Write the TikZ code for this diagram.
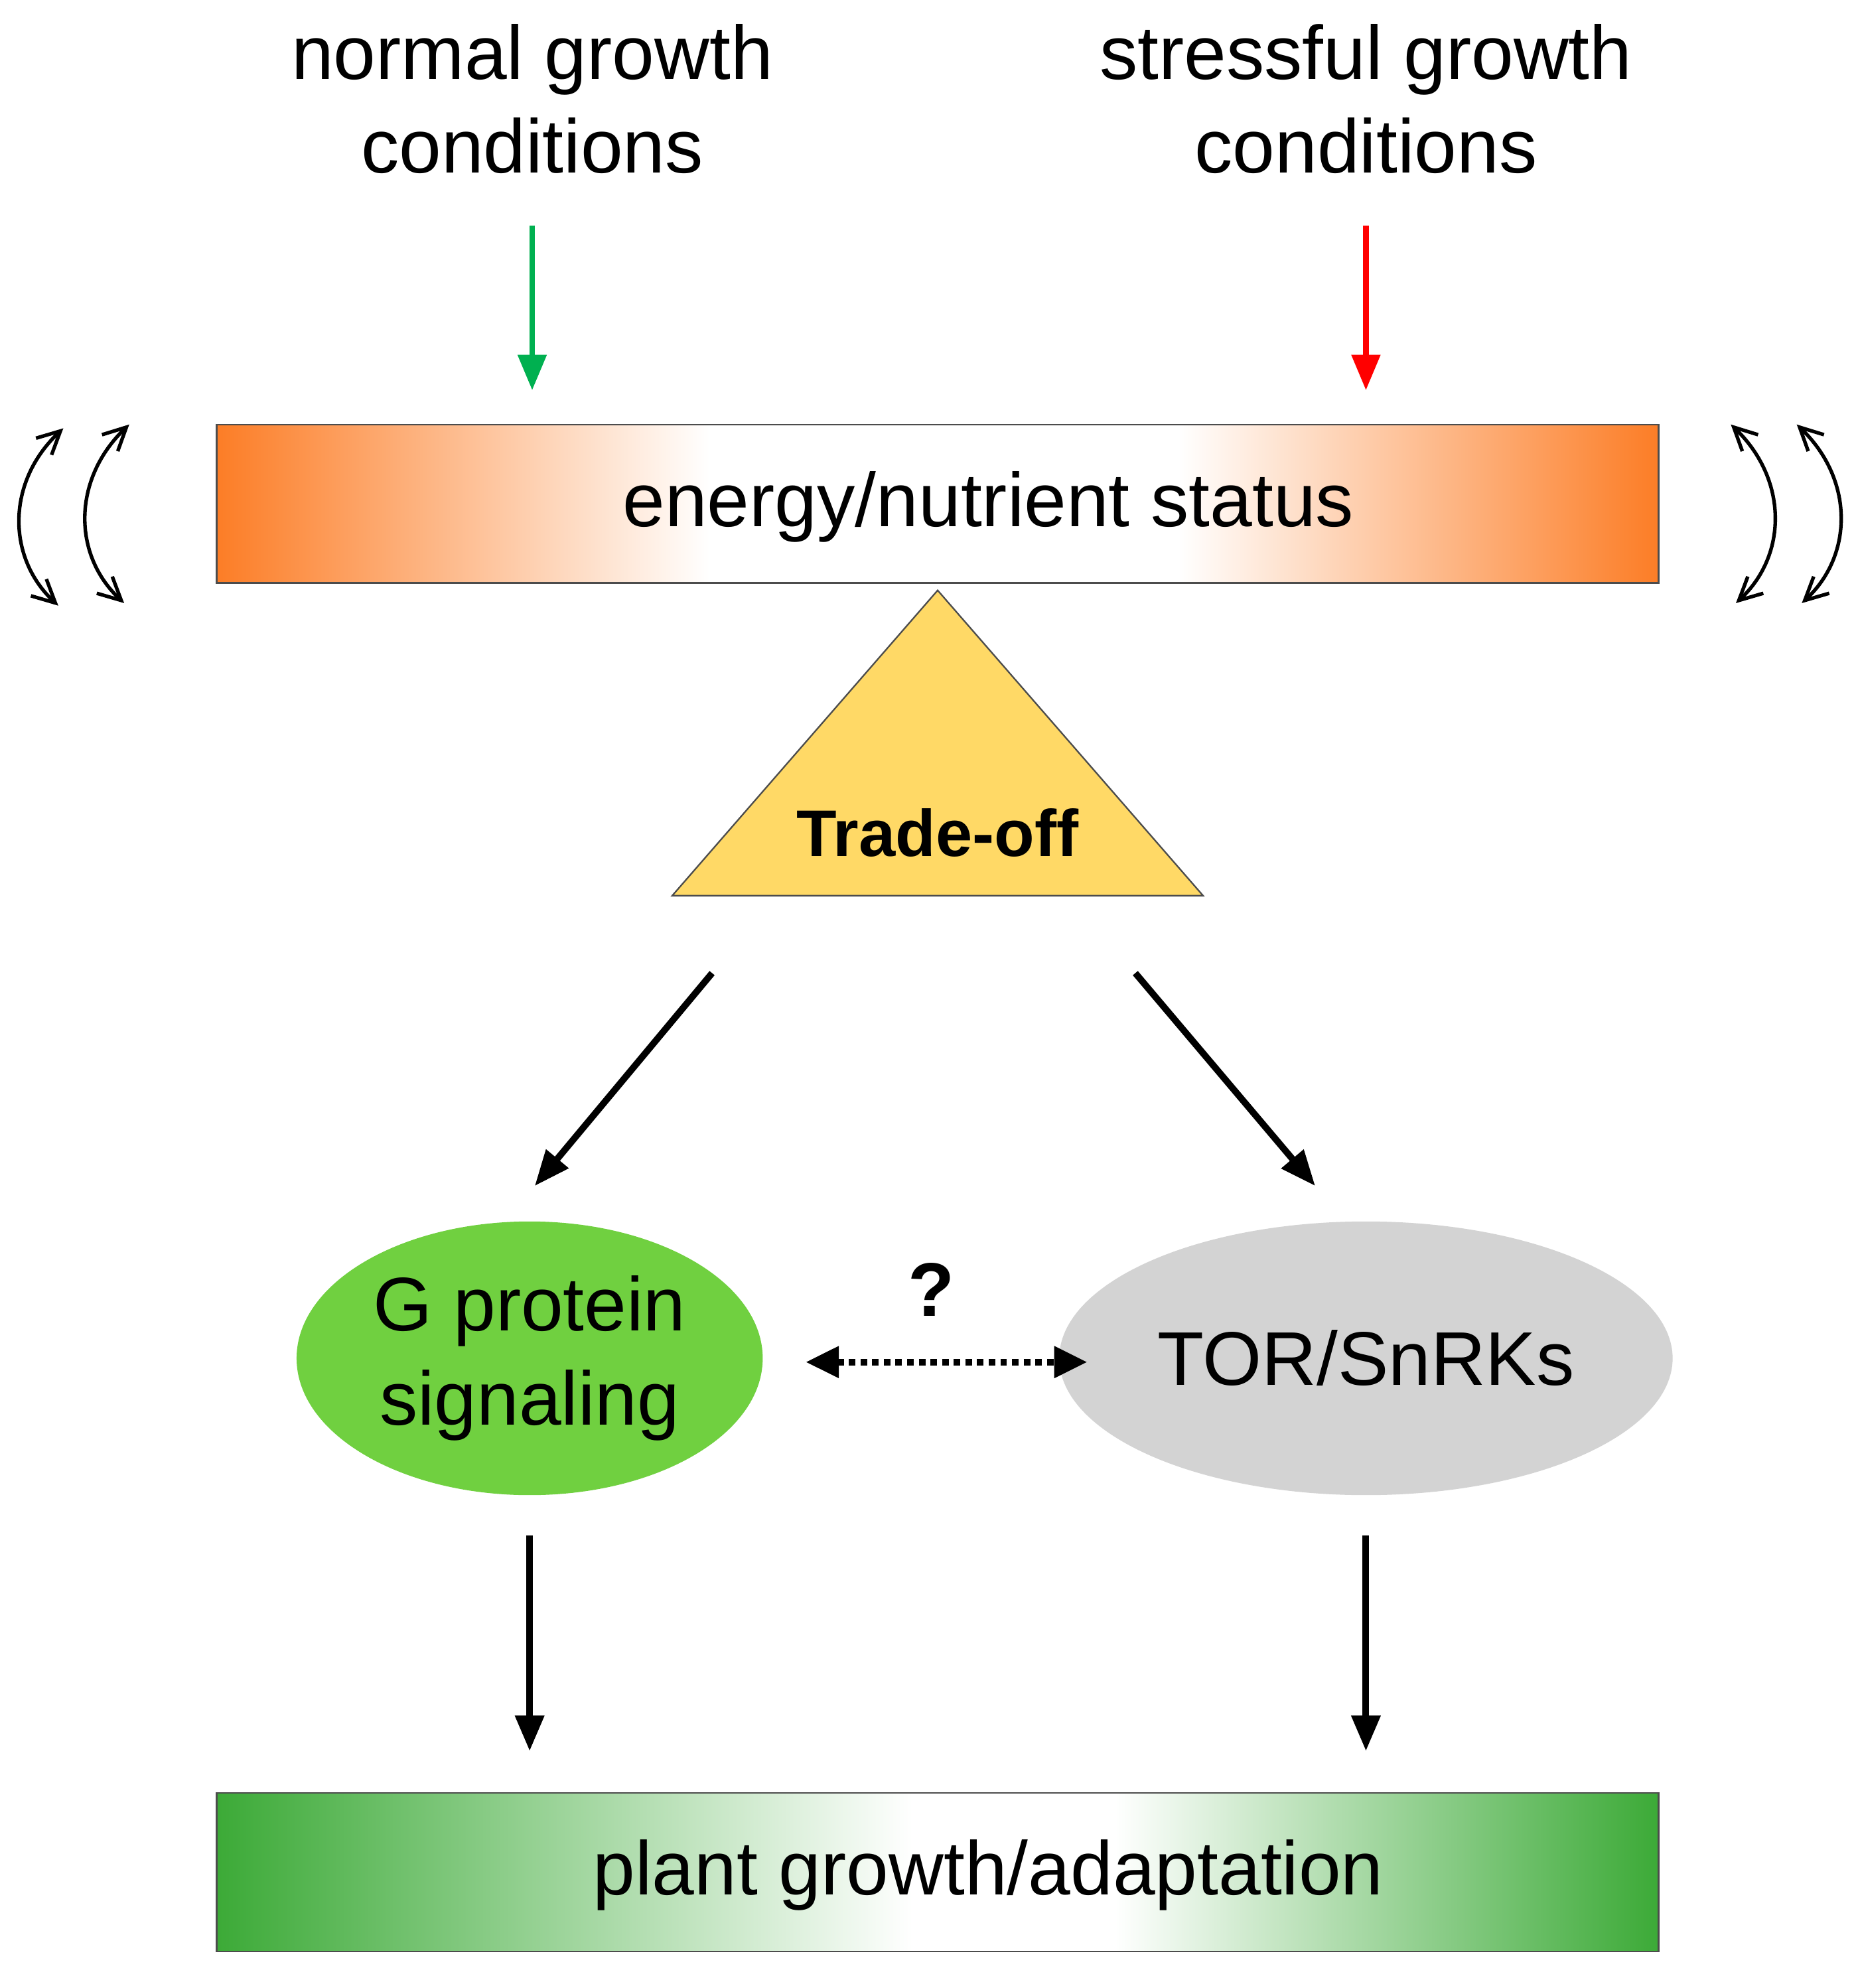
\documentclass[tikz,border=0pt]{standalone}
\usepackage{fontspec}
\setmainfont{Liberation Sans}
\usetikzlibrary{arrows.meta,shapes.geometric}
\definecolor{orng}{RGB}{252,125,38}
\definecolor{grn}{RGB}{60,170,55}
\definecolor{tri}{RGB}{255,217,102}
\definecolor{ellg}{RGB}{112,208,64}
\definecolor{ellgr}{RGB}{211,211,211}
\definecolor{ag}{RGB}{0,176,80}
\definecolor{ar}{RGB}{255,0,0}
\begin{document}
\begin{tikzpicture}[x=0.5pt,y=-0.5pt,
 lbl/.style={font=\fontsize{30}{37}\selectfont,align=center},
 big/.style={-{Triangle[length=14pt,width=11pt]},line width=2.6pt},
 thin/.style={-{Triangle[length=14pt,width=11pt]},line width=2.2pt},
 curv/.style={{Straight Barb[length=9pt,width=9pt]}-{Straight Barb[length=9pt,width=9pt]},line width=1.4pt}]
\useasboundingbox (0,0) rectangle (1466,1569);
% top labels
\node[lbl] (n) at (420,78) {normal growth\\conditions};
\node[lbl] (s) at (1078,78) {stressful growth\\conditions};
\coordinate (ga) at (420,178); \coordinate (gb) at (420,308);
\coordinate (ra) at (1078,178); \coordinate (rb) at (1078,308);
\draw[thin,ag] (ga) -- (gb);
\draw[thin,ar] (ra) -- (rb);
% orange box
\shade[left color=orng,right color=white] (171,335) rectangle (560,460);
\shade[left color=white,right color=orng] (930,335) rectangle (1309,460);
\node[draw=black!70,line width=0.6pt,minimum width=569pt,minimum height=62.5pt,inner sep=0] (e) at (740,397.5) {};
\node[lbl] (et) at (780,400) {energy/nutrient status};
% triangle
\node[draw=black!70,line width=0.6pt,fill=tri,isosceles triangle,isosceles triangle apex angle=82,shape border rotate=90,minimum height=120.5pt,inner sep=0,anchor=apex] (t) at (740,465) {};
\node[font=\bfseries\fontsize{26}{30}\selectfont] (tt) at (740,657) {Trade-off};
% arrows to ellipses
\coordinate (a1) at (562,768); \coordinate (a2) at (422,936);
\coordinate (b1) at (896,768); \coordinate (b2) at (1038,936);
\draw[big] (a1) -- (a2);
\draw[big] (b1) -- (b2);
% ellipses
\node[ellipse,fill=ellg,minimum width=183pt,minimum height=108pt,lbl] (g) at (418,1072) {G protein\\signaling};
\node[ellipse,fill=ellgr,minimum width=183pt,minimum height=108pt,lbl] (tor) at (1078,1072) {TOR/SnRKs};
\coordinate (d1) at (636,1075); \coordinate (d2) at (858,1075);
\draw[{Triangle[length=13pt,width=12pt]}-{Triangle[length=13pt,width=12pt]},line width=2.6pt,dotted] (d1) -- (d2);
\node[font=\bfseries\fontsize{30}{34}\selectfont] (q) at (735,1018) {?};
% down arrows
\coordinate (c1) at (418,1212); \coordinate (c2) at (418,1382);
\coordinate (e1) at (1078,1212); \coordinate (e2) at (1078,1382);
\draw[big] (c1) -- (c2);
\draw[big] (e1) -- (e2);
% green box
\shade[left color=grn,right color=white] (171,1415) rectangle (720,1540);
\shade[left color=white,right color=grn] (880,1415) rectangle (1309,1540);
\node[draw=black!70,line width=0.6pt,minimum width=569pt,minimum height=62.5pt,inner sep=0] (p) at (740,1477.5) {};
\node[lbl] (pt) at (780,1480) {plant growth/adaptation};
% curved arrows
\coordinate (l1a) at (50,338); \coordinate (l1b) at (46,478);
\coordinate (l2a) at (102,335); \coordinate (l2b) at (98,476);
\draw[curv] (l1a) .. controls (5,380) and (5,440) .. (l1b);
\draw[curv] (l2a) .. controls (57,378) and (57,438) .. (l2b);
\coordinate (r1a) at (1366,335); \coordinate (r1b) at (1370,476);
\coordinate (r2a) at (1418,335); \coordinate (r2b) at (1422,476);
\draw[curv] (r1a) .. controls (1411,378) and (1411,438) .. (r1b);
\draw[curv] (r2a) .. controls (1463,378) and (1463,438) .. (r2b);
\end{tikzpicture}
\end{document}
